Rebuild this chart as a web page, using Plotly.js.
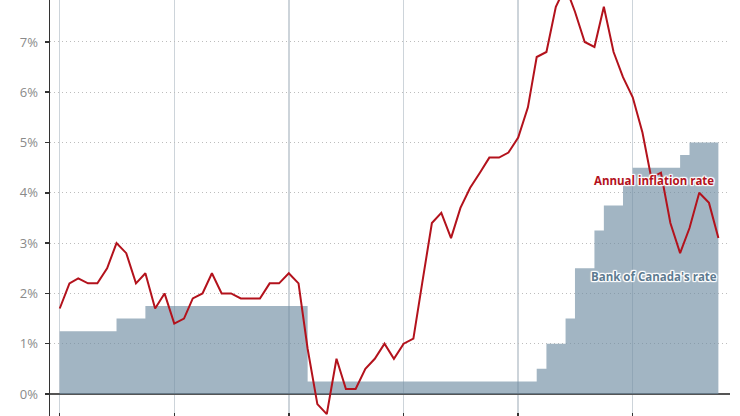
<!DOCTYPE html>
<html>
<head>
<meta charset="utf-8">
<script src="https://cdn.plot.ly/plotly-3.0.1.min.js"></script>
<style>
  html, body { margin: 0; padding: 0; overflow: hidden; background: #fff; }
  #chart { width: 740px; height: 440px; }
</style>
</head>
<body>
<div id="chart"></div>
<script>
// Months covered: January 2018 to October 2023
const years = [2018, 2019, 2020, 2021, 2022, 2023];
const lastMonth2023 = 10;

// Annual inflation rate (%), monthly
const inflation = [
  1.7, 2.2, 2.3, 2.2, 2.2, 2.5, 3.0, 2.8, 2.2, 2.4, 1.7, 2.0,
  1.4, 1.5, 1.9, 2.0, 2.4, 2.0, 2.0, 1.9, 1.9, 1.9, 2.2, 2.2,
  2.4, 2.2, 0.9, -0.2, -0.4, 0.7, 0.1, 0.1, 0.5, 0.7, 1.0, 0.7,
  1.0, 1.1, 2.2, 3.4, 3.6, 3.1, 3.7, 4.1, 4.4, 4.7, 4.7, 4.8,
  5.1, 5.7, 6.7, 6.8, 7.7, 8.1, 7.6, 7.0, 6.9, 7.7, 6.8, 6.3,
  5.9, 5.2, 4.3, 4.4, 3.4, 2.8, 3.3, 4.0, 3.8, 3.1
];

// Bank of Canada policy rate (%), monthly
const bankRate = [
  1.25, 1.25, 1.25, 1.25, 1.25, 1.25, 1.5, 1.5, 1.5, 1.75, 1.75, 1.75,
  1.75, 1.75, 1.75, 1.75, 1.75, 1.75, 1.75, 1.75, 1.75, 1.75, 1.75, 1.75,
  1.75, 1.75, 0.25, 0.25, 0.25, 0.25, 0.25, 0.25, 0.25, 0.25, 0.25, 0.25,
  0.25, 0.25, 0.25, 0.25, 0.25, 0.25, 0.25, 0.25, 0.25, 0.25, 0.25, 0.25,
  0.25, 0.25, 0.5, 1.0, 1.0, 1.5, 2.5, 2.5, 3.25, 3.75, 3.75, 4.25,
  4.5, 4.5, 4.5, 4.5, 4.5, 4.75, 5.0, 5.0, 5.0, 5.0
];

const labelInflation = "Annual inflation rate";
const labelBank = "Bank of Canada's rate";

const months = [];
years.forEach(function (y) {
  const n = (y === 2023) ? lastMonth2023 : 12;
  for (let m = 1; m <= n; m++) {
    months.push(y + '-' + String(m).padStart(2, '0') + '-01');
  }
});

const halo = '1px 1px 1px #fff, -1px -1px 1px #fff, 1px -1px 1px #fff, -1px 1px 1px #fff, 0 1px 1px #fff, 0 -1px 1px #fff, 1px 0 1px #fff, -1px 0 1px #fff';

const traces = [
  {
    type: 'scatter', mode: 'lines', x: months, y: bankRate,
    line: { shape: 'hv', width: 0, color: 'rgba(112,141,163,0.65)' },
    fill: 'tozeroy', fillcolor: 'rgba(112,141,163,0.65)',
    hoverinfo: 'skip', showlegend: false
  },
  {
    type: 'scatter', mode: 'lines', x: months, y: inflation,
    line: { color: '#b3121c', width: 2 },
    showlegend: false, cliponaxis: true
  }
];

const layout = {
  width: 740, height: 440,
  margin: { l: 50, r: 10, t: 0, b: 20 },
  paper_bgcolor: '#fff', plot_bgcolor: '#fff',
  showlegend: false,
  font: { family: 'Open Sans, sans-serif', color: '#888' },
  xaxis: {
    type: 'date',
    range: ['2017-12-01', '2023-11-07'],
    tick0: '2018-01-01', dtick: 'M12',
    showgrid: true, gridcolor: '#cdd4da', gridwidth: 1.5,
    ticks: 'inside', ticklen: 7, tickcolor: '#333', tickwidth: 1.5,
    showticklabels: false, showline: false, zeroline: false, fixedrange: true
  },
  yaxis: {
    range: [-0.517, 7.834],
    dtick: 1, tick0: 0, ticksuffix: '%',
    showgrid: true, gridcolor: '#bdbdbd', griddash: '1px,3px', gridwidth: 1,
    showline: true, linecolor: '#333', linewidth: 1.5,
    ticks: 'outside', ticklen: 4, tickcolor: '#333', tickwidth: 1.5,
    ticklabelstandoff: 4,
    tickfont: { size: 13, color: '#8a8a8a', family: 'Open Sans, sans-serif' },
    zeroline: true, zerolinecolor: '#555', zerolinewidth: 1.5, fixedrange: true
  },
  annotations: [
    {
      x: '2023-03-10', y: 4.255, xref: 'x', yref: 'y',
      text: labelInflation, showarrow: false, xanchor: 'center', yanchor: 'middle',
      font: { family: 'Open Sans, sans-serif', size: 11.5, color: '#b3121c', weight: 'bold', shadow: halo }
    },
    {
      x: '2023-03-10', y: 2.33, xref: 'x', yref: 'y',
      text: labelBank, showarrow: false, xanchor: 'center', yanchor: 'middle',
      font: { family: 'Open Sans, sans-serif', size: 11.5, color: '#5d7a90', weight: 'bold', shadow: halo }
    }
  ]
};

Plotly.newPlot('chart', traces, layout, { displayModeBar: false, staticPlot: true });
</script>
</body>
</html>
